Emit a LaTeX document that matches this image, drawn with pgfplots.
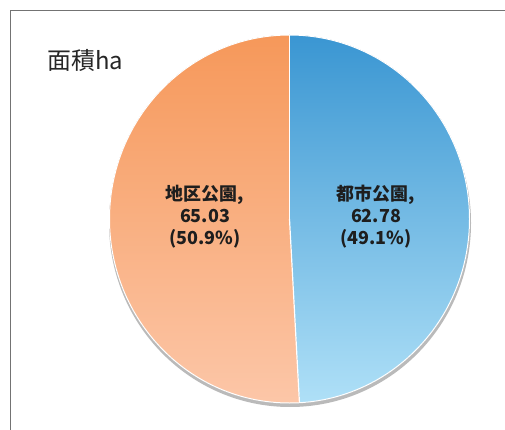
\documentclass[border=0pt]{standalone}
\usepackage{pgfplots}
\pgfplotsset{compat=1.18}
\usepackage{pgfplotstable}
\usepackage{fontspec}
\setmainfont{Noto Sans CJK JP}
\definecolor{blueT}{HTML}{3A96D2}
\definecolor{blueB}{HTML}{AFE0F7}
\definecolor{orT}{HTML}{F6985A}
\definecolor{orB}{HTML}{FCC7A9}
\definecolor{txt}{HTML}{1E1E1E}
\pgfplotstableread[col sep=comma]{
idx,value
0,62.78
1,65.03
}\piedata
\pgfplotstablegetelem{0}{value}\of\piedata \let\va\pgfplotsretval
\pgfplotstablegetelem{1}{value}\of\piedata \let\vb\pgfplotsretval
\pgfmathsetmacro\total{\va+\vb}
\pgfmathsetmacro\frac{\va/\total}
\pgfmathsetmacro\angA{90-360*\frac}
\pgfmathsetmacro\ex{180*cos(\angA)}
\pgfmathsetmacro\ey{184*sin(\angA)}
\begin{document}
\begin{tikzpicture}
\begin{axis}[width=505bp,height=430bp,scale only axis,
  xmin=0,xmax=505,ymin=0,ymax=430,hide axis,clip=false]
\draw[black!55,line width=1pt] (axis cs:10.5,0) -- (axis cs:10.5,419.5) -- (axis cs:505,419.5);
\node[anchor=west,text=black!85,font=\fontsize{24}{27}\selectfont] at (axis cs:44,370) {面積ha};
% shadow
\fill[black!27] (axis cs:290,207) ellipse[x radius=181bp,y radius=184bp];
% slices
\fill[top color=blueT,bottom color=blueB] (axis cs:289.5,211) -- ++(0,184bp) arc[start angle=90,end angle=\angA,x radius=180bp,y radius=184bp] -- cycle;
\fill[top color=orT,bottom color=orB] (axis cs:289.5,211) -- ++(\ex bp,\ey bp) arc[start angle=\angA,end angle=-270,x radius=180bp,y radius=184bp] -- cycle;
\draw[white,line width=1pt] (axis cs:289.5,211) ellipse[x radius=180bp,y radius=184bp];
\draw[white,line width=1.2pt] (axis cs:289.5,211) -- ++(0,184bp);
\draw[white,line width=1.2pt] (axis cs:289.5,211) -- ++(\ex bp,\ey bp);
% labels
\node[align=center,text=txt,font=\bfseries\fontsize{18}{22}\selectfont] at (axis cs:205,213) {地区公園,\\65.03\\(50.9\%)};
\node[align=center,text=txt,font=\bfseries\fontsize{18}{22}\selectfont] at (axis cs:376,213) {都市公園,\\62.78\\(49.1\%)};
\end{axis}
\pgfresetboundingbox
\useasboundingbox (current axis.south west) rectangle (current axis.north east);
\end{tikzpicture}
\end{document}
